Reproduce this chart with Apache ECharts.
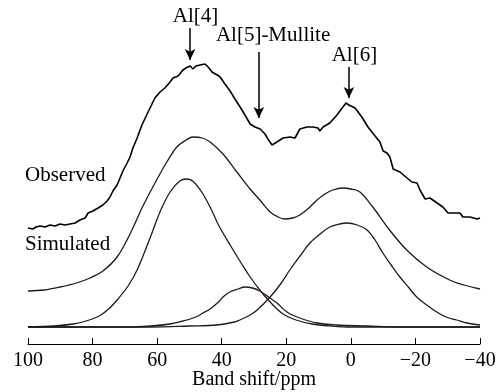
<!DOCTYPE html>
<html>
<head>
<meta charset="utf-8">
<script src="https://cdn.jsdelivr.net/npm/echarts@6/dist/echarts.min.js"></script>
<style>html,body{margin:0;padding:0;background:#fff;}#c{width:503px;height:392px;}</style>
</head>
<body>
<div id="c"></div>
<script>
// Observed spectrum (ppm, intensity above component baseline)
const obsPpm = [100,99.4,98.5,97.5,96.3,94.7,93.2,91.6,90.1,88.5,87.0,85.4,83.9,82.3,81.4,79.9,78.3,76.8,75.5,74.6,73.7,72.4,71.5,70.6,69.3,68.4,67.5,66.2,65.3,64.7,63.1,62.2,60.7,59.1,57.6,56.0,55.1,53.5,52.0,51.1,49.8,48.9,48.0,46.7,45.2,44.2,43.0,41.4,40.5,39.0,37.4,35.9,34.3,32.8,31.2,29.7,28.1,26.6,25.7,24.4,22.9,21.0,18.9,17.3,15.8,13.6,11.7,10.2,9.6,8.6,6.5,4.3,2.7,1.5,0.6,-1.3,-3.4,-5.3,-7.5,-9.0,-10.0,-11.2,-12.1,-13.1,-15.2,-17.4,-18.9,-20.5,-21.4,-23.0,-24.5,-26.7,-28.5,-30.1,-31.6,-33.8,-34.7,-36.9,-39.1,-40];
const obsVal = [99,101,98,100,101,100,102,101,103,102,103,104,107,109,114,116,119,122,126,130,136,142,149,156,164,170,179,189,197,202,213,219,229,235,239,245,249,251,257,259,261,258,261,262,263,260,255,252,250,243,236,228,220,212,203,200,198,193,188,182,185,189,190,189,198,200,200,199,196,200,204,212,219,224,222,219,210,200,191,185,176,174,170,158,155,149,145,144,137,128,129,124,120,114,114,114,110,110,108,109];

// Simulated sum
const simPpm = [100,95,90,85,80.8,76.8,72.4,68.4,64.4,60,57,53.9,51,48.9,46,43.6,39.6,35.3,31.2,28.2,25,22.5,20.7,18,15.8,13,10.5,8,5.6,2.5,0,-2.8,-6.8,-12,-17.3,-23.5,-30.6,-35,-40];
const simVal = [36,37,40,44,49,56,70,93,121,148,165,180,187,190,189,185,173,155,138,127,115,110,108,109,112,119,127,133,137,139,138,135,120,97,77,60,47,42,38];

// Component Al[4]
const al4Ppm = [100,92,86,82,78,75,72.4,69,66.2,62.2,59,56,53,51,49,46,43,41,37.4,33.4,31.2,28.2,25,21,17,12,6,0,-40];
const al4Val = [0,1,3,6,11,18,27,41,57,89,116,135,146,148,146,134,116,102,82,61,50,37,25,13,7,3,1,0,0];

// Component Al[5]-Mullite
const al5Ppm = [100,70,62,56,52,48,45.8,43.6,41,39.6,37.5,35,32.8,30.5,28.2,25.5,22.9,19.8,15.8,10.5,4.3,-5,-15,-40];
const al5Val = [0,0,1,3,6,10,14,18,25,30,35,38,40,39,36,30,24,15,9,4,2,1,0,0];

// Component Al[6]
const al6Ppm = [100,62,50,41.5,36,34.4,31.2,29,25,22,18.9,15.5,12.7,9.5,6.5,3.5,1.2,-2,-5,-7.5,-9.9,-12.5,-15.2,-17.8,-20.4,-23.5,-26.6,-29.5,-32.8,-36,-40];
const al6Val = [0,0,1,2,5,7,12,17,30,42,57,72,84,93,100,103,104,102,97,87,74,62,50,40,30,22,15,10,7,4,2];

// Annotations
const labelTexts = ['Al[4]','Al[5]-Mullite','Al[6]','Observed','Simulated'];
const labelPpm = [48.1,24.1,-1.1,100,100];
const labelVal = [311,292,271.5,152,83];
const arrowPpm = [49.8,28.5,0.6];
const arrowTop = [299,275,260];
const arrowBottom = [267,209,229];

const zip = (a,b) => a.map((v,i) => [v,b[i]]);
const FONT = 'Liberation Serif';
const curveColor = '#231815';

const chart = echarts.init(document.getElementById('c'), null, {renderer:'canvas'});

const smoothSeries = (data) => ({
  type:'line', data: data, smooth: 0.35, showSymbol:false, symbol:'none',
  lineStyle:{color:curveColor, width:1.3}, silent:true, z:2
});

const markData = labelTexts.map((t,i) => ({
  coord:[labelPpm[i], labelVal[i]], name:t,
  label: i>=3 ? {position:'right', distance:0, offset:[-3,0]} : {position:'inside'}
}));

const arrowData = arrowPpm.map((p,i) => ([
  {coord:[p, arrowTop[i]], symbol:'none'},
  {coord:[p, arrowBottom[i]], symbol:'arrow'}
]));

chart.setOption({
  animation:false,
  backgroundColor:'#fff',
  grid:{left:28, right:23, top:7, bottom:48, containLabel:false, outerBoundsMode:'none'},
  xAxis:{
    type:'value', inverse:true, min:-40, max:100, interval:20,
    axisLine:{show:true, onZero:false, lineStyle:{color:'#000', width:1}},
    axisTick:{show:true, inside:true, length:6, lineStyle:{color:'#000', width:1}},
    axisLabel:{fontFamily:FONT, fontSize:20, color:'#000', margin:7,
      formatter: v => (v<0 ? '\u2212' + Math.abs(v) : String(v))},
    splitLine:{show:false},
    name:'Band shift/ppm', nameLocation:'middle', nameGap:26, nameMoveOverlap:false,
    nameTextStyle:{fontFamily:FONT, fontSize:20, color:'#000'}
  },
  yAxis:{type:'value', min:-17, max:320, show:false, splitLine:{show:false}},
  series:[
    {
      type:'line', data: zip(obsPpm, obsVal), showSymbol:false, symbol:'none',
      lineStyle:{color:'#000', width:1.6}, silent:true, z:3,
      markPoint:{
        symbol:'circle', symbolSize:0, silent:true,
        itemStyle:{color:'rgba(0,0,0,0)'},
        label:{show:true, formatter:'{b}', fontFamily:FONT, fontSize:21, color:'#000'},
        data: markData
      },
      markLine:{
        silent:true, symbolSize:[8,11],
        lineStyle:{color:'#000', width:1.5, type:'solid'},
        label:{show:false},
        data: arrowData
      }
    },
    smoothSeries(zip(simPpm, simVal)),
    smoothSeries(zip(al4Ppm, al4Val)),
    smoothSeries(zip(al5Ppm, al5Val)),
    smoothSeries(zip(al6Ppm, al6Val))
  ]
});
</script>
</body>
</html>
